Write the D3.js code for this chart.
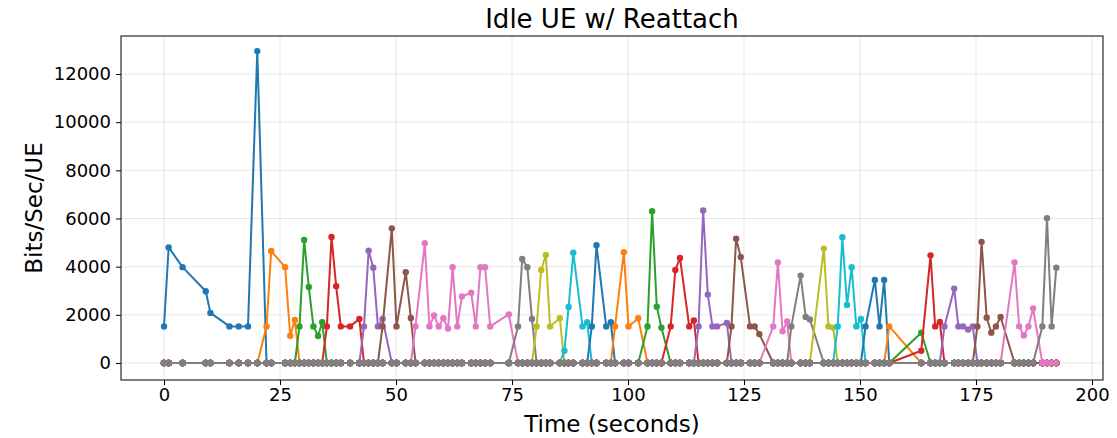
<!DOCTYPE html>
<html>
<head>
<meta charset="utf-8">
<script src="https://cdn.jsdelivr.net/npm/d3@7"></script>
<style>
  html, body { margin: 0; padding: 0; background: #fff; }
  svg { display: block; font-family: "DejaVu Sans", sans-serif; }
</style>
</head>
<body>
<svg id="chart" width="1117" height="438"></svg>
<script>
// Sample instants (seconds) shared by every UE trace
const sampleTimes = [
  0.0, 1.0, 4.0, 9.0, 10.0, 14.1, 16.1, 18.1, 20.1, 22.1, 23.1, 26.1, 27.2, 28.2,
  29.2, 30.2, 31.2, 32.2, 33.2, 34.1, 35.1, 36.1, 37.1, 38.1, 40.1, 42.1, 43.1,
  44.1, 45.1, 46.1, 47.1, 49.1, 50.1, 52.1, 53.2, 54.2, 56.2, 57.2, 58.2, 59.2,
  60.2, 61.2, 62.2, 63.2, 64.2, 66.2, 67.2, 68.2, 69.2, 70.3, 74.3, 76.3, 77.2,
  78.3, 79.3, 80.3, 81.3, 82.3, 83.2, 85.3, 86.3, 87.2, 88.2, 90.2, 91.2, 92.2,
  93.2, 95.3, 96.3, 97.2, 99.1, 100.1, 102.2, 104.2, 105.2, 106.2, 107.2, 109.2,
  110.2, 111.2, 113.2, 114.2, 115.2, 116.2, 117.2, 118.2, 119.2, 121.3, 122.3,
  123.3, 124.3, 126.3, 127.3, 128.3, 131.3, 132.3, 133.3, 134.3, 135.2, 137.2,
  138.3, 139.2, 142.2, 143.2, 144.2, 145.2, 146.2, 147.2, 148.2, 149.2, 150.2,
  151.2, 153.2, 154.2, 155.2, 156.3, 163.2, 165.2, 166.2, 167.2, 168.2, 170.3,
  171.2, 172.2, 173.3, 174.3, 175.3, 176.2, 177.3, 178.3, 179.3, 180.3, 183.3,
  184.3, 185.3, 186.3, 187.3, 189.3, 190.3, 191.3, 192.3
];

// Per-UE activity: [first active sample time, throughput values (bits/s) on consecutive samples]
// Outside its active window each UE reports 0.
const ueBursts = [
  [0.0,   [1520, 4800, 3980, 2980, 2080, 1520, 1520, 1520, 12950]],
  [22.1,  [1520, 4650, 3980, 1130, 1790]],
  [29.2,  [1520, 5110, 3160, 1520, 1120, 1690]],
  [35.1,  [1520, 5230, 3190, 1520, 1520, 1830]],
  [43.1,  [1520, 4660, 3960, 1520, 1830]],
  [47.1,  [1520, 5590, 1520, 3770, 1870]],
  [54.2,  [1520, 4970, 1520, 1970, 1520, 1860, 1430, 3980, 1520, 2760, 2920, 1520, 3980, 3980, 1520, 2020]],
  [76.3,  [1520, 4320, 3980, 1830]],
  [80.3,  [1520, 3860, 4490, 1520, 1860]],
  [86.3,  [510, 2330, 4580, 1520, 1690]],
  [92.2,  [1520, 4890, 1520, 1690]],
  [97.2,  [1520, 4600, 1520, 1860]],
  [104.2, [1520, 6300, 2340, 1470]],
  [109.2, [1520, 3860, 4360, 1520, 1770]],
  [115.2, [1520, 6330, 2840, 1520, 1520, 1660]],
  [122.3, [1520, 5160, 4400, 1520, 1520, 1200]],
  [131.3, [1520, 4170, 1320, 1720]],
  [135.2, [1520, 3630, 1910, 1810]],
  [142.2, [4750, 1520, 1470]],
  [145.2, [1520, 5220, 2410, 3980, 1520, 1830]],
  [151.2, [1520, 3450, 1520, 3450]],
  [156.3, [1520]],
  [163.2, [1260]],
  [163.2, [510, 4470, 1520, 1700]],
  [168.2, [1520, 3090, 1520, 1520, 1390, 1520]],
  [175.3, [1520, 5030, 1880, 1260, 1520, 1910]],
  [183.3, [4180, 1520, 1140, 1520, 2270]],
  [189.3, [1520, 6010, 1520, 3960]]
];

const xTicks = [0, 25, 50, 75, 100, 125, 150, 175, 200];
const yTicks = [0, 2000, 4000, 6000, 8000, 10000, 12000];

const chartTitle = "Idle UE w/ Reattach";
const xLabel = "Time (seconds)";
const yLabel = "Bits/Sec/UE";

// ---- layout ----
const svg = d3.select("#chart");
const plot = { left: 121, right: 1103, top: 36, bottom: 380 };

const x = d3.scaleLinear().domain([-9.27, 202.37]).range([plot.left, plot.right]);
const y = d3.scaleLinear().domain([-706, 13578]).range([plot.bottom, plot.top]);

const colors = d3.schemeCategory10;

// grid
const grid = svg.append("g");
grid.selectAll(".gx").data(xTicks).join("line")
  .attr("x1", d => x(d)).attr("x2", d => x(d))
  .attr("y1", plot.top).attr("y2", plot.bottom)
  .attr("stroke", "#b0b0b0").attr("stroke-opacity", 0.3).attr("stroke-width", 1);
grid.selectAll(".gy").data(yTicks).join("line")
  .attr("x1", plot.left).attr("x2", plot.right)
  .attr("y1", d => y(d)).attr("y2", d => y(d))
  .attr("stroke", "#b0b0b0").attr("stroke-opacity", 0.3).attr("stroke-width", 1);

// traces
svg.append("clipPath").attr("id", "plotclip")
  .append("rect").attr("x", plot.left).attr("y", plot.top)
  .attr("width", plot.right - plot.left).attr("height", plot.bottom - plot.top);

const traces = svg.append("g").attr("clip-path", "url(#plotclip)");
const line = d3.line().x(d => x(d[0])).y(d => y(d[1]));

ueBursts.forEach(([start, vals], i) => {
  const k0 = sampleTimes.findIndex(t => Math.abs(t - start) < 1e-6);
  const pts = sampleTimes.map((t, k) => {
    const j = k - k0;
    return [t, (j >= 0 && j < vals.length) ? vals[j] : 0];
  });
  const c = colors[i % 10];
  const g = traces.append("g");
  g.append("path").datum(pts).attr("d", line)
    .attr("fill", "none").attr("stroke", c).attr("stroke-width", 2)
    .attr("stroke-linejoin", "round").attr("stroke-linecap", "square");
  g.selectAll("circle").data(pts).join("circle")
    .attr("cx", d => x(d[0])).attr("cy", d => y(d[1])).attr("r", 3.2)
    .attr("fill", c);
});

// axes
const xAxis = svg.append("g").attr("transform", `translate(0,${plot.bottom})`)
  .call(d3.axisBottom(x).tickValues(xTicks).tickFormat(d3.format("d")).tickSize(5).tickPadding(3));
const yAxis = svg.append("g").attr("transform", `translate(${plot.left},0)`)
  .call(d3.axisLeft(y).tickValues(yTicks).tickFormat(d => String(d)).tickSize(5).tickPadding(5));
[xAxis, yAxis].forEach(a => {
  a.select(".domain").remove();
  a.selectAll("line").attr("stroke", "#000").attr("stroke-width", 1);
  a.selectAll("text").attr("font-size", 18).attr("fill", "#000")
    .attr("font-family", "DejaVu Sans, sans-serif");
});

// frame
svg.append("rect").attr("x", plot.left).attr("y", plot.top)
  .attr("width", plot.right - plot.left).attr("height", plot.bottom - plot.top)
  .attr("fill", "none").attr("stroke", "#000").attr("stroke-width", 1);

// labels
svg.append("text").attr("x", (plot.left + plot.right) / 2).attr("y", 28)
  .attr("text-anchor", "middle").attr("font-size", 26).text(chartTitle);
svg.append("text").attr("x", (plot.left + plot.right) / 2).attr("y", 432)
  .attr("text-anchor", "middle").attr("font-size", 23).text(xLabel);
svg.append("text").attr("transform", `translate(42,${(plot.top + plot.bottom) / 2}) rotate(-90)`)
  .attr("text-anchor", "middle").attr("font-size", 23).text(yLabel);
</script>
</body>
</html>
